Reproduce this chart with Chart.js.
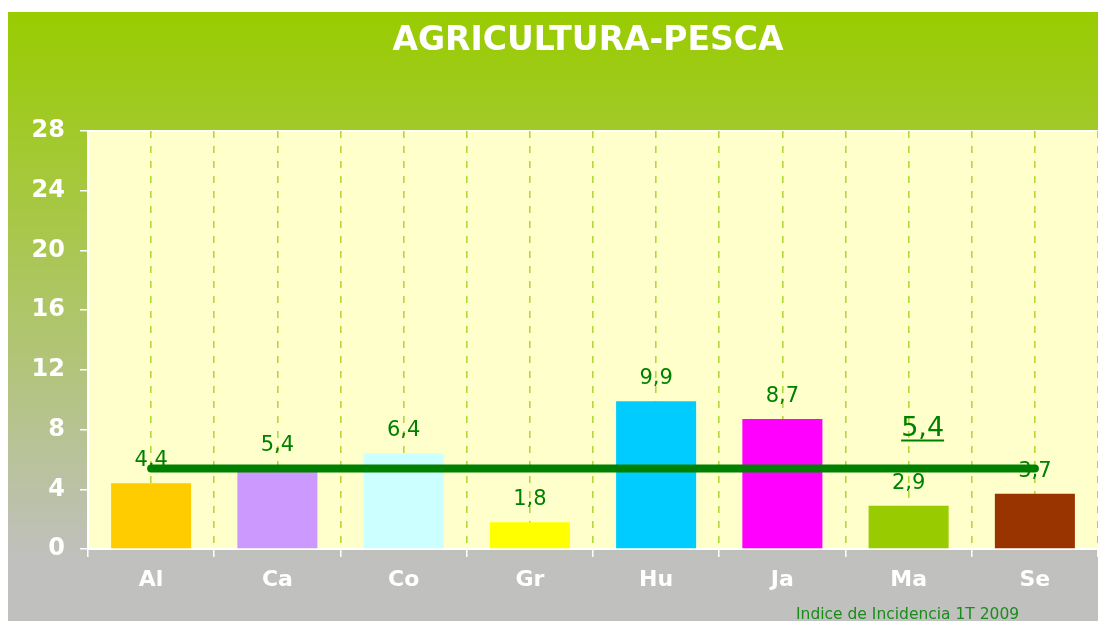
<!DOCTYPE html>
<html>
<head>
<meta charset="utf-8">
<script src="https://cdn.jsdelivr.net/npm/chart.js@4"></script>
<style>
  html, body { margin: 0; padding: 0; background: #ffffff; }
  #wrap { width: 1098px; height: 623px; position: relative; }
  canvas { display: block; }
</style>
</head>
<body>
<div id="wrap"><canvas id="c" width="1098" height="623"></canvas></div>
<script>
// ---- data ----
const chartTitle = "AGRICULTURA-PESCA";
const categories = ["Al", "Ca", "Co", "Gr", "Hu", "Ja", "Ma", "Se"];
const values = [4.4, 5.4, 6.4, 1.8, 9.9, 8.7, 2.9, 3.7];
const barColors = ["#FFCC00", "#CC99FF", "#CCFFFF", "#FFFF00", "#00CCFF", "#FF00FF", "#99CC00", "#993300"];
const averageValue = 5.4;
const averageLine = [5.4, 5.4, 5.4, 5.4, 5.4, 5.4, 5.4, 5.4];
const yTicks = [0, 4, 8, 12, 16, 20, 24, 28];
const footerText = "Indice de Incidencia 1T 2009";

const fmt = v => v.toFixed(1).replace(".", ",");
const FONT = "'DejaVu Sans', Verdana, sans-serif";

const bgPlugin = {
  id: "bg",
  beforeDraw(chart) {
    const ctx = chart.ctx;
    const a = chart.chartArea;
    ctx.save();
    const g = ctx.createLinearGradient(0, 12, 0, 560);
    g.addColorStop(0, "#99CC00");
    g.addColorStop(1, "#C0C0BE");
    ctx.fillStyle = g;
    ctx.fillRect(8, 12, chart.width - 8, 609);
    ctx.fillStyle = "#FFFFCC";
    ctx.fillRect(a.left, a.top, a.right - a.left, a.bottom - a.top);
    ctx.strokeStyle = "#ffffff";
    ctx.lineWidth = 2;
    ctx.beginPath();
    ctx.moveTo(a.left, a.top);
    ctx.lineTo(a.right, a.top);
    ctx.stroke();
    ctx.restore();
  },
  afterDatasetDraw(chart, args) {
    if (args.index !== 0) return;
    const ctx = chart.ctx;
    const meta = chart.getDatasetMeta(0);
    ctx.save();
    ctx.fillStyle = "#008000";
    ctx.font = "21px " + FONT;
    ctx.textAlign = "center";
    ctx.textBaseline = "bottom";
    meta.data.forEach((el, i) => {
      ctx.fillText(fmt(values[i]), el.x, el.y - 12);
    });
    ctx.restore();
  },
  afterDraw(chart) {
    const ctx = chart.ctx;
    const xs = chart.scales.x, ys = chart.scales.y;
    ctx.save();
    // title
    ctx.fillStyle = "#ffffff";
    ctx.font = "bold 33px " + FONT;
    ctx.textAlign = "center";
    ctx.textBaseline = "middle";
    ctx.fillText(chartTitle, 588, 41);
    // average label
    const ax = xs.getPixelForValue(6) + 14;
    const ay = ys.getPixelForValue(averageValue) - 32;
    ctx.fillStyle = "#008000";
    ctx.font = "27px " + FONT;
    ctx.textBaseline = "alphabetic";
    const t = fmt(averageValue);
    ctx.fillText(t, ax, ay);
    const w = ctx.measureText(t).width;
    ctx.strokeStyle = "#008000";
    ctx.lineWidth = 2;
    ctx.beginPath();
    ctx.moveTo(ax - w / 2, ay + 4);
    ctx.lineTo(ax + w / 2, ay + 4);
    ctx.stroke();
    // footer
    ctx.fillStyle = "#1a8c1a";
    ctx.font = "15.5px " + FONT;
    ctx.textAlign = "left";
    ctx.fillText(footerText, 796, 619);
    ctx.restore();
  }
};

new Chart(document.getElementById("c"), {
  data: {
    labels: categories,
    datasets: [
      {
        type: "bar",
        data: values,
        backgroundColor: barColors,
        borderWidth: 0,
        categoryPercentage: 1,
        barPercentage: 0.634,
        order: 2
      },
      {
        type: "line",
        data: averageLine,
        borderColor: "#008000",
        borderWidth: 8,
        borderCapStyle: "round",
        pointRadius: 0,
        fill: false,
        order: 1
      }
    ]
  },
  options: {
    responsive: false,
    animation: false,
    events: [],
    layout: { padding: { top: 131, left: 0, right: 0, bottom: 0 } },
    plugins: { legend: { display: false }, title: { display: false }, tooltip: { enabled: false } },
    scales: {
      x: {
        type: "category",
        offset: true,
        grid: {
          offset: true,
          color: "#B2D83A",
          lineWidth: 1.6,
          drawTicks: true,
          tickColor: "#ffffff",
          tickLength: 8,
          tickWidth: 1.5,
          tickBorderDash: []
        },
        border: { color: "#ffffff", width: 2, dash: [7, 8] },
        ticks: { color: "#ffffff", font: { family: FONT, size: 22, weight: "bold" }, padding: 10 },
        afterFit(s) { s.height = 74; }
      },
      x2: {
        type: "category",
        labels: categories,
        position: "bottom",
        offset: true,
        grid: {
          offset: false,
          color: "#B2D83A",
          lineWidth: 1.6,
          drawTicks: false
        },
        border: { display: false, dash: [7, 8] },
        ticks: { display: false },
        afterFit(s) { s.height = 0; }
      },
      y: {
        min: 0,
        max: 28,
        afterBuildTicks(s) { s.ticks = yTicks.map(v => ({ value: v })); },
        grid: {
          drawOnChartArea: false,
          drawTicks: true,
          tickColor: "#ffffff",
          tickLength: 8,
          lineWidth: 1.5
        },
        border: { color: "#ffffff", width: 2 },
        ticks: { color: "#ffffff", font: { family: FONT, size: 24, weight: "bold" }, padding: 15 },
        afterFit(s) { s.width = 88; }
      }
    }
  },
  plugins: [bgPlugin]
});
</script>
</body>
</html>
